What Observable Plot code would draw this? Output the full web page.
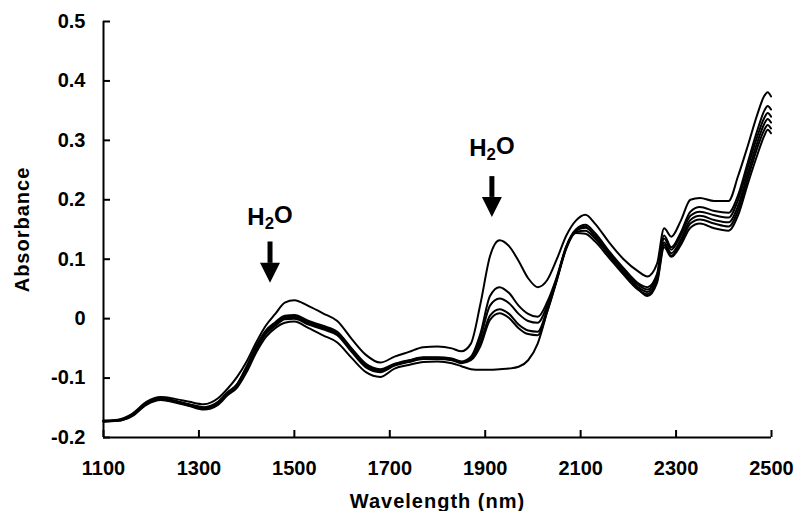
<!DOCTYPE html>
<html><head><meta charset="utf-8">
<script src="https://cdn.jsdelivr.net/npm/d3@7"></script>
<script src="https://cdn.jsdelivr.net/npm/@observablehq/plot@0.6"></script>
<style>
body{margin:0;background:#fff}
.axis-title text{letter-spacing:1px}
</style>
</head><body><div id="chart"></div>
<script>
const wavelengths = [1100,1130,1160,1190,1220,1250,1280,1310,1340,1360,1380,1400,1420,1440,1460,1480,1500,1530,1560,1590,1620,1650,1680,1710,1740,1770,1800,1830,1850,1870,1890,1910,1930,1950,1970,1990,2010,2030,2050,2070,2090,2110,2130,2160,2190,2220,2240,2260,2275,2290,2310,2330,2350,2380,2410,2430,2450,2470,2485,2492,2499];

const sample1 = [-0.172,-0.170,-0.160,-0.140,-0.132,-0.135,-0.140,-0.144,-0.134,-0.118,-0.098,-0.072,-0.040,-0.012,0.008,0.027,0.031,0.021,0.009,-0.004,-0.034,-0.061,-0.074,-0.064,-0.056,-0.048,-0.047,-0.050,-0.055,-0.042,0.025,0.105,0.132,0.122,0.097,0.068,0.053,0.065,0.100,0.140,0.165,0.175,0.160,0.128,0.100,0.080,0.071,0.092,0.152,0.138,0.165,0.200,0.203,0.198,0.198,0.240,0.290,0.343,0.375,0.381,0.374];
const sample2 = [-0.172,-0.171,-0.162,-0.142,-0.134,-0.138,-0.144,-0.149,-0.140,-0.124,-0.110,-0.080,-0.046,-0.020,-0.006,0.005,0.006,-0.004,-0.012,-0.022,-0.050,-0.076,-0.085,-0.076,-0.070,-0.065,-0.065,-0.067,-0.072,-0.064,-0.025,0.038,0.053,0.043,0.022,0.008,0.003,0.028,0.070,0.122,0.150,0.158,0.144,0.113,0.085,0.060,0.053,0.075,0.140,0.120,0.145,0.180,0.188,0.181,0.178,0.208,0.262,0.316,0.350,0.358,0.352];
const sample3 = [-0.172,-0.171,-0.162,-0.143,-0.135,-0.139,-0.145,-0.150,-0.141,-0.125,-0.111,-0.082,-0.048,-0.022,-0.008,0.003,0.004,-0.006,-0.014,-0.024,-0.052,-0.078,-0.087,-0.077,-0.071,-0.066,-0.066,-0.068,-0.073,-0.066,-0.032,0.022,0.034,0.026,0.008,-0.004,-0.007,0.022,0.068,0.121,0.148,0.153,0.140,0.110,0.082,0.057,0.049,0.072,0.135,0.116,0.140,0.173,0.180,0.174,0.170,0.200,0.254,0.306,0.338,0.346,0.340];
const sample4 = [-0.173,-0.171,-0.163,-0.143,-0.135,-0.139,-0.146,-0.151,-0.142,-0.126,-0.112,-0.084,-0.050,-0.024,-0.010,0.001,0.002,-0.008,-0.016,-0.026,-0.054,-0.080,-0.088,-0.078,-0.072,-0.067,-0.067,-0.069,-0.074,-0.068,-0.040,0.005,0.016,0.008,-0.010,-0.020,-0.022,0.016,0.066,0.120,0.146,0.148,0.135,0.106,0.078,0.053,0.045,0.068,0.128,0.110,0.133,0.166,0.173,0.166,0.162,0.190,0.244,0.296,0.328,0.336,0.330];
const sample5 = [-0.173,-0.172,-0.163,-0.144,-0.136,-0.140,-0.146,-0.152,-0.143,-0.127,-0.113,-0.085,-0.052,-0.026,-0.012,-0.001,0.000,-0.010,-0.018,-0.028,-0.056,-0.082,-0.090,-0.079,-0.073,-0.068,-0.068,-0.070,-0.075,-0.070,-0.046,-0.002,0.009,0.001,-0.016,-0.026,-0.028,0.012,0.064,0.118,0.144,0.143,0.130,0.102,0.074,0.049,0.041,0.064,0.124,0.106,0.128,0.160,0.167,0.160,0.155,0.182,0.235,0.287,0.318,0.326,0.320];
const sample6 = [-0.173,-0.172,-0.164,-0.145,-0.137,-0.141,-0.147,-0.153,-0.145,-0.129,-0.116,-0.090,-0.057,-0.031,-0.016,-0.007,-0.005,-0.016,-0.028,-0.040,-0.066,-0.090,-0.098,-0.084,-0.078,-0.073,-0.072,-0.075,-0.080,-0.085,-0.086,-0.086,-0.085,-0.084,-0.081,-0.070,-0.042,0.012,0.066,0.120,0.148,0.155,0.138,0.108,0.078,0.050,0.038,0.060,0.120,0.104,0.124,0.153,0.160,0.152,0.148,0.174,0.226,0.275,0.308,0.318,0.312];

const seriesNames = ["Sample 1","Sample 2","Sample 3","Sample 4","Sample 5","Sample 6"];
const xTicks = [1100,1300,1500,1700,1900,2100,2300,2500];
const yTicks = [-0.2,-0.1,0,0.1,0.2,0.3,0.4,0.5];
const xTitle = "Wavelength (nm)";
const yTitle = "Absorbance";
const annotations = [
  {label: "H2O", x: 1449, textY: 0.171, top: 0.129, base: 0.093, tip: 0.0605},
  {label: "H2O", x: 1914, textY: 0.287, top: 0.239, base: 0.204, tip: 0.171}
];

const rows = [];
[sample1, sample2, sample3, sample4, sample5, sample6].forEach((s, i) =>
  s.forEach((v, j) => rows.push({series: seriesNames[i], nm: wavelengths[j], a: v})));

const downHead = {
  draw(ctx) {
    ctx.moveTo(0, 0);
    ctx.lineTo(-10, -20);
    ctx.lineTo(10, -20);
    ctx.closePath();
  }
};

const font = "'Liberation Sans', Arial, Helvetica, sans-serif";
const chart = Plot.plot({
  width: 797,
  height: 511,
  marginLeft: 103,
  marginRight: 26,
  marginTop: 21,
  marginBottom: 74,
  x: {domain: [1100, 2500]},
  y: {domain: [-0.2, 0.5]},
  style: {fontFamily: font, fontWeight: "bold", fontSize: "20px", color: "black", background: "white"},
  marks: [
    Plot.axisX(xTicks, {tickSize: 0, tickPadding: 23, label: null, fontSize: 20, fontWeight: "bold", tickFormat: d => String(d)}),
    Plot.axisY(yTicks, {tickSize: 0, tickPadding: 18, label: null, fontSize: 20, fontWeight: "bold", tickFormat: d => d === 0 ? "0" : d.toFixed(1)}),
    Plot.ruleX(xTicks, {x: d => d, insetTop: 409, stroke: "black", strokeWidth: 2}),
    Plot.ruleY(yTicks, {y: d => d, insetRight: 661, stroke: "black", strokeWidth: 2}),
    Plot.ruleX([1100], {stroke: "black", strokeWidth: 2}),
    Plot.ruleY([-0.2], {stroke: "black", strokeWidth: 2}),
    Plot.line(rows, {x: "nm", y: "a", z: "series", stroke: "black", strokeWidth: 2, curve: "monotone-x"}),
    Plot.ruleX(annotations, {x: "x", y1: "top", y2: "base", stroke: "black", strokeWidth: 5}),
    Plot.dot(annotations, {x: "x", y: "tip", symbol: downHead, fill: "black", stroke: "none", r: 5}),
    Plot.text(annotations, {x: "x", y: "textY", text: "label", fontSize: 24, fontWeight: "bold", fill: "black", className: "h2o"}),
    Plot.text([xTitle], {text: d => d, frameAnchor: "bottom", lineAnchor: "middle", textAnchor: "middle", dy: 64, fontSize: 20, fontWeight: "bold", fill: "black", className: "axis-title"}),
    Plot.text([yTitle], {text: d => d, frameAnchor: "left", lineAnchor: "middle", textAnchor: "middle", dx: -81, rotate: -90, fontSize: 20, fontWeight: "bold", fill: "black", className: "axis-title"})
  ]
});
// render the "2" of H2O as a subscript
d3.select(chart).selectAll(".h2o text").each(function() {
  const t = d3.select(this);
  const s = t.text();
  t.text(null);
  t.append("tspan").text(s[0]);
  t.append("tspan").attr("font-size", "70%").attr("dy", "0.25em").text(s[1]);
  t.append("tspan").attr("dy", "-0.25em").text(s.slice(2));
});
document.getElementById("chart").appendChild(chart);
</script>
</body></html>
